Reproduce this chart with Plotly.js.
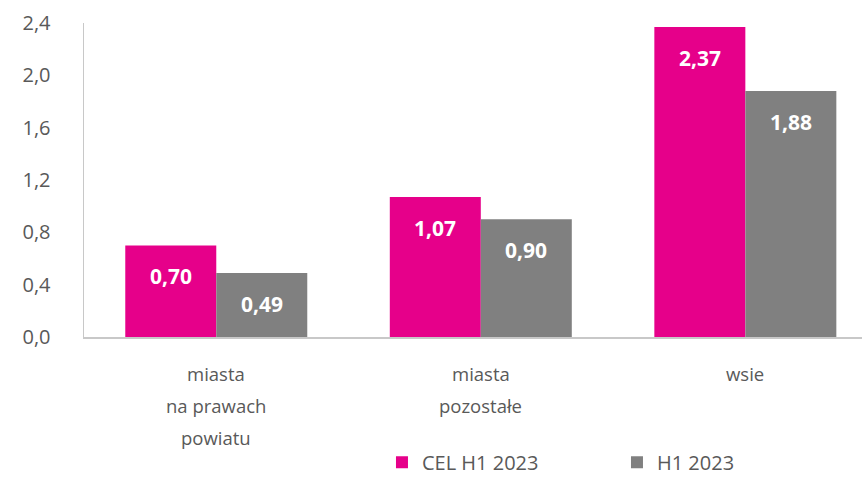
<!DOCTYPE html>
<html><head><meta charset="utf-8">
<script src="https://cdn.plot.ly/plotly-3.0.1.min.js"></script>
<style>body{margin:0;background:#fff}#c{width:862px;height:478px}</style>
</head><body><div id="c"></div>
<script>
const categories = ["miasta na prawach powiatu", "miasta pozostałe", "wsie"];
const categoryLines = [["miasta", "na prawach", "powiatu"], ["miasta", "pozostałe"], ["wsie"]];
const seriesNames = ["CEL H1 2023", "H1 2023"];
const celValues = [0.70, 1.07, 2.37];
const h1Values = [0.49, 0.90, 1.88];
const yTicks = [0, 0.4, 0.8, 1.2, 1.6, 2.0, 2.4];
const yTickLabels = ["0,0", "0,4", "0,8", "1,2", "1,6", "2,0", "2,4"];
const colors = ["#E6008A", "#808080"];

const FONT = "Open Sans, sans-serif";
const fmt = v => v.toFixed(2).replace(".", ",");

const traces = [celValues, h1Values].map((vals, i) => ({
  type: "bar", name: seriesNames[i], x: categories, y: vals,
  marker: {color: colors[i]}, hoverinfo: "none"
}));

const annotations = [];
[celValues, h1Values].forEach((vals, s) => {
  vals.forEach((v, i) => {
    annotations.push({x: categories[i], y: v, xref: "x", yref: "y", text: "<b>" + fmt(v) + "</b>",
      showarrow: false, xshift: s === 0 ? -45.5 : 45.5, yanchor: "middle", yshift: -31,
      font: {family: FONT, size: 21, color: "#ffffff"}});
  });
});
categoryLines.forEach((lines, i) => {
  lines.forEach((t, j) => {
    annotations.push({x: categories[i], y: -0.115 - j * 0.102, xref: "x", yref: "paper", text: t,
      showarrow: false, yanchor: "middle", font: {family: FONT, size: 18.5, color: "#595959"}});
  });
});

const layout = {
  width: 862, height: 478,
  margin: {l: 84, r: 0, t: 23, b: 141},
  paper_bgcolor: "#fff", plot_bgcolor: "#fff",
  barmode: "group", bargap: 0.312, bargroupgap: 0,
  font: {family: FONT, color: "#595959"},
  xaxis: {type: "category", range: [-0.5, 2.441], showticklabels: false, ticks: "",
    showline: true, linecolor: "#C8C8C8", linewidth: 1.5, showgrid: false, zeroline: false, fixedrange: true},
  yaxis: {range: [0, 2.4], tickvals: yTicks, ticktext: yTickLabels, ticks: "", ticklabelstandoff: 28,
    tickfont: {family: FONT, size: 20, color: "#595959"},
    showline: true, linecolor: "#C8C8C8", linewidth: 1.5, showgrid: false, zeroline: false, fixedrange: true},
  showlegend: true,
  legend: {orientation: "h", x: 0.383, xanchor: "left", xref: "paper", y: 0.033, yref: "container", yanchor: "middle",
    font: {family: FONT, size: 20, color: "#595959"}, entrywidth: 190, entrywidthmode: "pixels",
    traceorder: "normal"},
  annotations: annotations
};

Plotly.newPlot("c", traces, layout, {displayModeBar: false, staticPlot: true});
</script></body></html>
